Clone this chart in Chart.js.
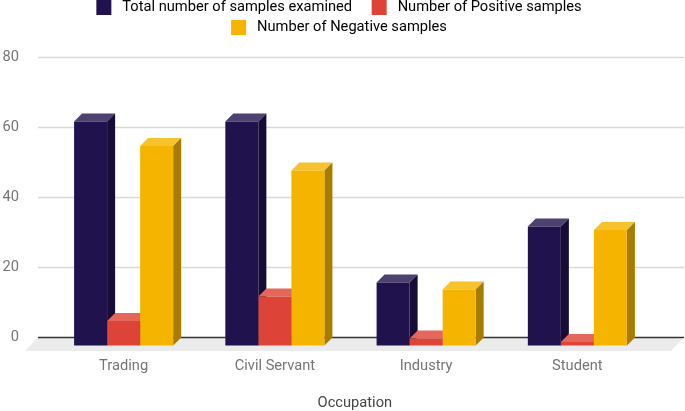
<!DOCTYPE html>
<html>
<head>
<meta charset="utf-8">
<script src="https://cdn.jsdelivr.net/npm/chart.js@4/dist/chart.umd.min.js"></script>
<style>
  html, body { margin: 0; padding: 0; background: #fff; }
  #wrap { width: 685px; height: 411px; }
</style>
</head>
<body>
<div id="wrap"><canvas id="chart"></canvas></div>
<script>
var categories = ["Trading", "Civil Servant", "Industry", "Student"];
var totalSamples = [64, 64, 18, 34];
var positiveSamples = [7, 14, 2, 1];
var negativeSamples = [57, 50, 16, 33];
var yTicks = [0, 20, 40, 60, 80];

var frontColors = ["#20124d", "#dd4437", "#f4b400"];
var topColors = ["#4d416f", "#e5675c", "#f6c22e"];
var sideColors = ["#160c36", "#9b2f26", "#a87c00"];

var depth = 8;      // front face is moved this far left and down from the back plane
var gridLeft = 38;
var gridRight = 684;

// 3d look: floor, long grid lines and the top and side of every bar
var bars3d = {
  id: "bars3d",
  afterLayout: function(chart) {
    chart.legend.top = -5;
    chart.legend.right = 678;
  },
  beforeDatasetsDraw: function(chart) {
    var ctx = chart.ctx;
    var yScale = chart.scales.y;
    var zero = yScale.getPixelForValue(0);

    ctx.save();
    ctx.fillStyle = "#ebebeb";
    ctx.beginPath();
    ctx.moveTo(gridLeft, zero);
    ctx.lineTo(gridRight, zero);
    ctx.lineTo(gridRight - 13, zero + 13.5);
    ctx.lineTo(gridLeft - 13, zero + 13.5);
    ctx.closePath();
    ctx.fill();

    yScale.ticks.forEach(function(tick) {
      var y = yScale.getPixelForValue(tick.value);
      ctx.strokeStyle = tick.value === 0 ? "#333333" : "#d9d9d9";
      ctx.lineWidth = 1.5;
      ctx.beginPath();
      ctx.moveTo(gridLeft, y);
      ctx.lineTo(gridRight, y);
      ctx.stroke();
    });

    categories.forEach(function(name, c) {
      chart.data.datasets.forEach(function(ds, d) {
        var bar = chart.getDatasetMeta(d).data[c];
        var left = bar.x - bar.width / 2;
        var right = bar.x + bar.width / 2;

        // top face
        ctx.fillStyle = topColors[d];
        ctx.beginPath();
        ctx.moveTo(left - depth, bar.y + depth);
        ctx.lineTo(left, bar.y);
        ctx.lineTo(right, bar.y);
        ctx.lineTo(right - depth, bar.y + depth);
        ctx.closePath();
        ctx.fill();

        // side face
        ctx.fillStyle = sideColors[d];
        ctx.beginPath();
        ctx.moveTo(right - depth, bar.y + depth);
        ctx.lineTo(right, bar.y);
        ctx.lineTo(right, bar.base);
        ctx.lineTo(right - depth, bar.base + depth);
        ctx.closePath();
        ctx.fill();
      });
    });
    ctx.restore();
  },
  beforeDatasetDraw: function(chart) {
    chart.ctx.save();
    chart.ctx.translate(-depth, depth);
  },
  afterDatasetDraw: function(chart) {
    chart.ctx.restore();
  }
};

new Chart(document.getElementById("chart"), {
  type: "bar",
  data: {
    labels: categories,
    datasets: [
      { label: "Total number of samples examined", data: totalSamples, backgroundColor: frontColors[0] },
      { label: "Number of Positive samples", data: positiveSamples, backgroundColor: frontColors[1] },
      { label: "Number of Negative samples", data: negativeSamples, backgroundColor: frontColors[2] }
    ]
  },
  plugins: [bars3d],
  options: {
    responsive: true,
    maintainAspectRatio: false,
    animation: false,
    events: [],
    layout: { padding: { top: 7.5, right: 24, left: 0, bottom: 0 } },
    datasets: { bar: { categoryPercentage: 0.655, barPercentage: 1, clip: false } },
    plugins: {
      tooltip: { enabled: false },
      legend: {
        position: "top",
        labels: {
          boxWidth: 15,
          boxHeight: 15,
          padding: 5,
          color: "#757575",
          font: { family: "Roboto", size: 14.67 },
          generateLabels: function(chart) {
            return chart.data.datasets.map(function(ds, i) {
              return {
                text: " " + ds.label + (i === 0 ? "    " : ""),
                fillStyle: ds.backgroundColor,
                strokeStyle: ds.backgroundColor,
                lineWidth: 0,
                datasetIndex: i
              };
            });
          }
        }
      }
    },
    scales: {
      x: {
        grid: { display: false },
        border: { display: false },
        ticks: {
          color: "#757575",
          font: { family: "Roboto", size: 14.67 },
          labelOffset: -depth,
          padding: 12
        },
        title: {
          display: true,
          text: "Occupation  ",
          color: "#444444",
          font: { family: "Roboto", size: 14.67 },
          padding: { top: 10, bottom: -1 }
        },
        afterFit: function(scale) { scale.height = 73.5; }
      },
      y: {
        min: 0,
        max: 80,
        afterBuildTicks: function(scale) {
          scale.ticks = yTicks.map(function(v) { return { value: v }; });
        },
        grid: { display: false },
        border: { display: false },
        ticks: {
          color: "#757575",
          font: { family: "Roboto", size: 14.67 },
          padding: 29
        },
        afterFit: function(scale) { scale.width = 56; }
      }
    }
  }
});
</script>
</body>
</html>
